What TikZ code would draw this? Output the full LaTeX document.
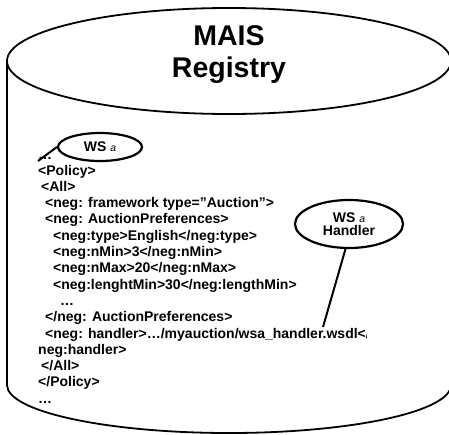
\documentclass[tikz,border=0pt]{standalone}
\usepackage{fontspec}
\setmainfont{Liberation Sans}
\usetikzlibrary{shapes.geometric}
\begin{document}
\begin{tikzpicture}[x=1pt,y=-1pt,
  code/.style={anchor=base west,inner sep=0pt,font=\fontsize{14}{16}\selectfont\bfseries},
  title/.style={anchor=base,inner sep=0pt,font=\fontsize{28.5}{30}\selectfont\bfseries},
  bubble/.style={ellipse,draw,line width=2.2pt,fill=white,inner sep=0pt,align=center,
    font=\fontsize{14}{15}\selectfont\bfseries},
  link/.style={line width=2pt},
  drum/.style={line width=1.8pt}]
\useasboundingbox (0,0) rectangle (449,434);
% registry drum
\draw[drum] (229,61) ellipse [x radius=222, y radius=53];
\draw[drum] (7,61) -- (7,385) arc[start angle=180,end angle=0,x radius=222,y radius=48] -- (451,61);
\node[title] (t1) at (229,45) {MAIS};
\node[title] (t2) at (229,77) {Registry};
% policy listing
\def\ls{16.3}
\node[code] (l0) at (38,159) {…};
\node[code] (l1) at (38,175) {<Policy>};
\node[code] (l2) at (41,175+1*\ls) {<All>};
\node[code] (l3) at (45,175+2*\ls) {<neg: framework type=”Auction”>};
\node[code] (l4) at (45,175+3*\ls) {<neg: AuctionPreferences>};
\node[code] (l5) at (53,175+4*\ls) {<neg:type>English</neg:type>};
\node[code] (l6) at (53,175+5*\ls) {<neg:nMin>3</neg:nMin>};
\node[code] (l7) at (53,175+6*\ls) {<neg:nMax>20</neg:nMax>};
\node[code] (l8) at (53,175+7*\ls) {<neg:lenghtMin>30</neg:lengthMin>};
\node[code] (l9) at (60,175+8*\ls) {…};
\node[code] (l10) at (45,175+9*\ls) {</neg: AuctionPreferences>};
\begin{scope}
  \clip (0,300) rectangle (366,345);
  \node[code] (l11) at (45,175+10*\ls) {<neg: handler>…/myauction/wsa\_handler.wsdl</};
\end{scope}
\node[code] (l12) at (38,175+11*\ls) {neg:handler>};
\node[code] (l13) at (41,175+12*\ls) {</All>};
\node[code] (l14) at (38,175+13*\ls) {</Policy>};
\node[code] (l15) at (38,175+14*\ls) {…};
% annotations
\node[bubble,minimum width=84pt,minimum height=28pt] (e1) at (100,147)
  {WS {\fontsize{10.5}{12}\selectfont\mdseries\itshape a}};
\node[bubble,minimum width=108pt,minimum height=48pt] (e2) at (349,224)
  {WS {\fontsize{10.5}{12}\selectfont\mdseries\itshape a}\\[-2pt]Handler};
\coordinate (p1) at (38,161);
\coordinate (p2) at (323,327);
\draw[link] (e1.west) -- (p1);
\draw[link] (e2.262) -- (p2);
\end{tikzpicture}
\end{document}
